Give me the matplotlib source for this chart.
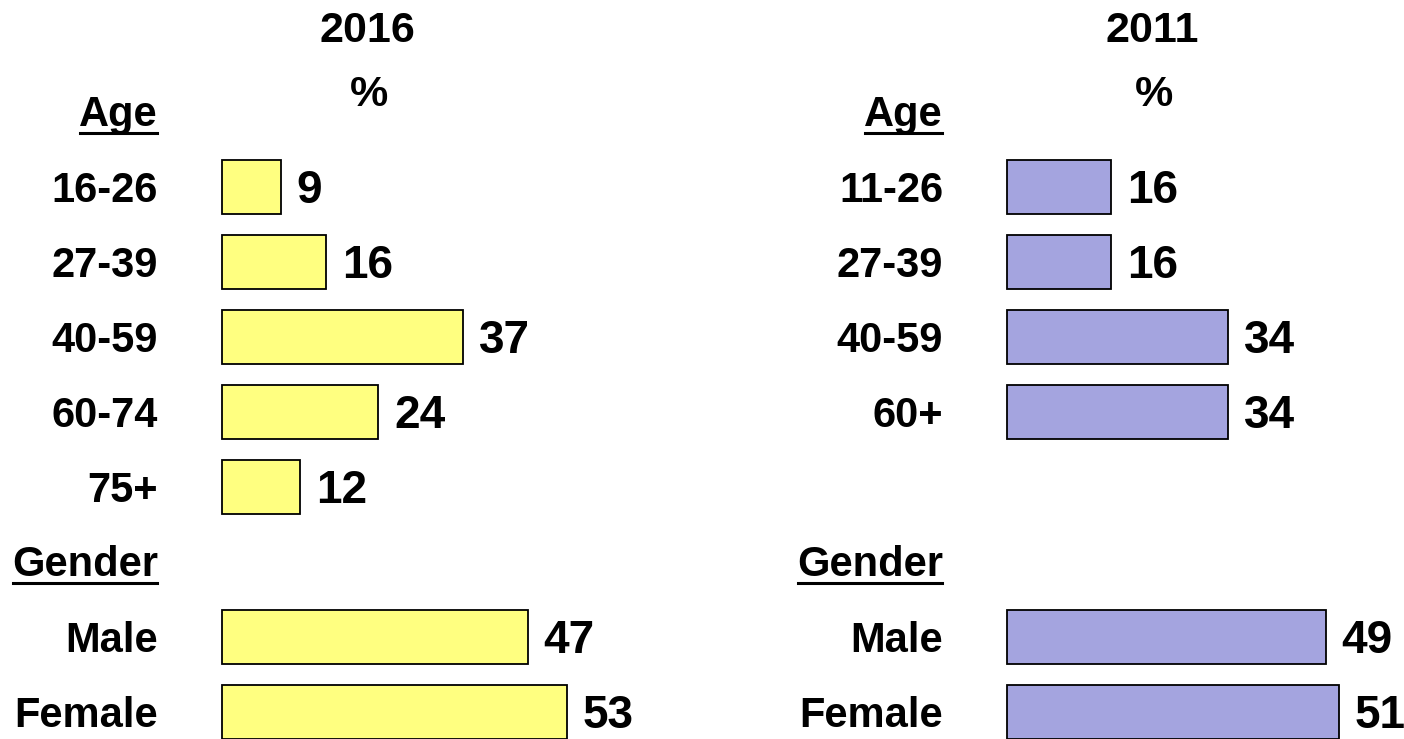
import matplotlib
matplotlib.use("Agg")
import matplotlib.pyplot as plt
from matplotlib.lines import Line2D
from matplotlib.transforms import IdentityTransform

plt.rcParams['font.family'] = ['Liberation Sans', 'DejaVu Sans']
plt.rcParams['font.weight'] = 'bold'

# data
years = ['2016', '2011']
age_labels_2016 = ['16-26', '27-39', '40-59', '60-74', '75+']
age_vals_2016 = [9, 16, 37, 24, 12]
age_labels_2011 = ['11-26', '27-39', '40-59', '60+']
age_vals_2011 = [16, 16, 34, 34]
gender_labels = ['Male', 'Female']
gender_vals_2016 = [47, 53]
gender_vals_2011 = [49, 51]

colors = ['#FFFF80', '#A4A4DF']

W, H = 1404, 739
fig = plt.figure(figsize=(W / 100, H / 100), dpi=100)

PX = 6.5      # pixels per percent
ROW0 = 112    # pixel y of the "Age" header row
STEP = 75     # pixels between rows
ymax = (H - ROW0) / STEP
ymin = -ROW0 / STEP

panels = [
    (222, 65, years[0], age_labels_2016, age_vals_2016, gender_vals_2016, colors[0]),
    (1007, 60, years[1], age_labels_2011, age_vals_2011, gender_vals_2011, colors[1]),
]

underlined = []
for left_px, xmax, year, age_labels, age_vals, gender_vals, col in panels:
    ax = fig.add_axes([left_px / W, 0, xmax * PX / W, 1])
    ax.set_xlim(0, xmax)
    ax.set_ylim(ymax, ymin)
    ax.axis('off')

    age_rows = list(range(1, len(age_labels) + 1))
    gender_rows = [7, 8]
    rows = age_rows + gender_rows
    vals = age_vals + gender_vals
    labels = age_labels + gender_labels

    bars = ax.barh(rows, vals, height=0.72, color=col, edgecolor='black', linewidth=1.3)
    for b in bars:
        b.set_clip_on(False)

    for r, v, lab in zip(rows, vals, labels):
        ax.annotate(lab, xy=(0, r), xytext=(-64, -15), textcoords='offset pixels',
                    ha='right', va='baseline', fontsize=30, fontweight='bold')
        ax.annotate(str(v), xy=(v, r), xytext=(16, -16), textcoords='offset pixels',
                    ha='left', va='baseline', fontsize=33, fontweight='bold')

    for r, head in [(0, 'Age'), (6, 'Gender')]:
        t = ax.annotate(head, xy=(0, r), xytext=(-64, -14), textcoords='offset pixels',
                        ha='right', va='baseline', fontsize=30, fontweight='bold')
        underlined.append((ax, t, r))

    # title
    ax.annotate(year, xy=(0, 0), xytext=(145, ROW0 - 42), textcoords='offset pixels',
                ha='center', va='baseline', fontsize=31, fontweight='bold')
    ax.annotate('%', xy=(0, 0), xytext=(147, ROW0 - 106), textcoords='offset pixels',
                ha='center', va='baseline', fontsize=31, fontweight='bold')

fig.canvas.draw()
renderer = fig.canvas.get_renderer()
for ax, t, r in underlined:
    bb = t.get_window_extent(renderer)
    y = ax.transData.transform((0, r))[1] - 14 - 6.5
    fig.add_artist(Line2D([bb.x0 + 1, bb.x1 - 1], [y, y], transform=IdentityTransform(),
                          color='black', linewidth=2.2))

fig.savefig('out.png', dpi=100)
